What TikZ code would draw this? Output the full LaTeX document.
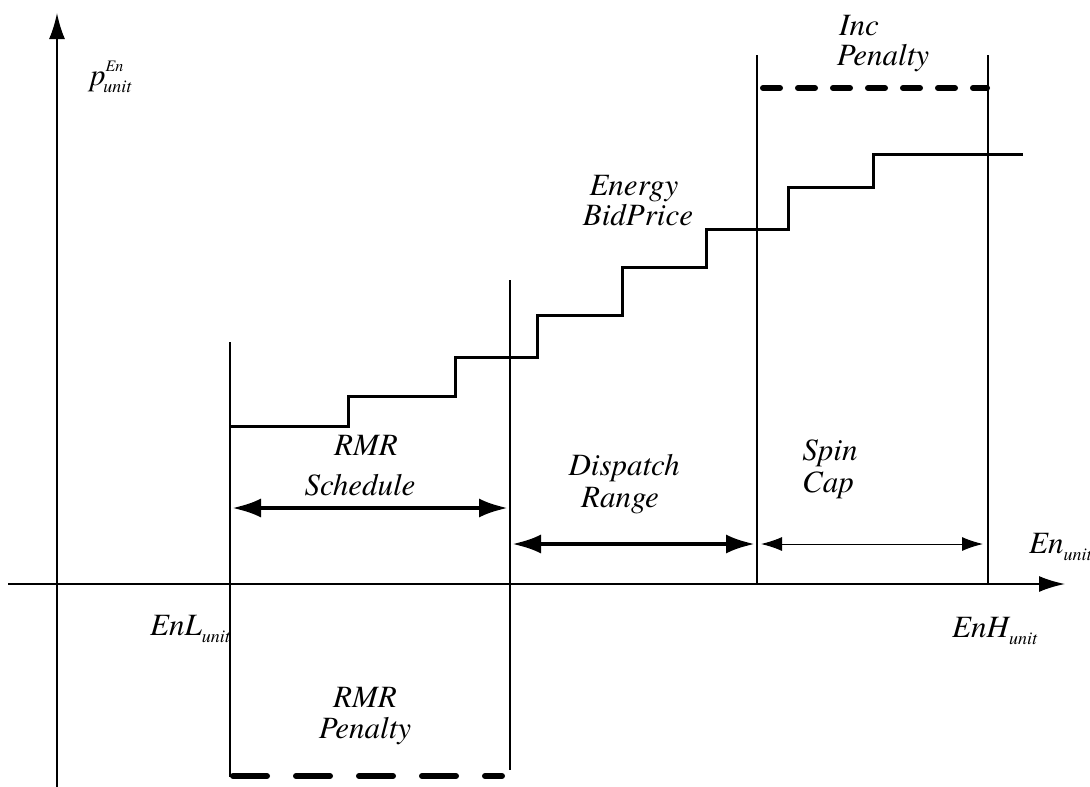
\documentclass[tikz,border=0pt]{standalone}
\usepackage{fontspec}
\setmainfont{texgyretermes}[Extension=.otf,UprightFont=*-regular,ItalicFont=*-italic,BoldFont=*-bold,BoldItalicFont=*-bolditalic]
\usetikzlibrary{arrows.meta}

\newcommand{\lowsub}[1]{\raisebox{-7pt}{\fontsize{18}{18}\selectfont #1}}
\newcommand{\highsup}[1]{\raisebox{14pt}{\fontsize{16}{16}\selectfont #1}}

\begin{document}
\begin{tikzpicture}[x=1pt,y=-1pt,
  axis line/.style={line width=2pt,-{Latex[length=26pt,width=16pt]}},
  bound line/.style={line width=1.2pt},
  bid line/.style={line width=3pt},
  range arrow/.style={line width=4pt,{Latex[length=29pt,width=19pt]}-{Latex[length=29pt,width=19pt]}},
  spin arrow/.style={line width=1pt,{Latex[length=21pt,width=14pt]}-{Latex[length=21pt,width=14pt]}},
  penalty line/.style={line width=6pt,line cap=round},
  text node/.style={inner sep=0pt,anchor=base,font=\itshape\fontsize{31}{31}\selectfont},
  axis node/.style={text node,anchor=base west}]

  \useasboundingbox (0,0) rectangle (1090,787);

  % axes
  \coordinate (x start) at (8,584);
  \coordinate (x end) at (1065,584);
  \coordinate (y start) at (57,787);
  \coordinate (y end) at (57,13);
  \draw[axis line] (x start) -- (x end);
  \draw[axis line] (y start) -- (y end);

  % range bounds
  \coordinate (enl top) at (230,342);
  \coordinate (enl bot) at (230,777);
  \coordinate (rmr top) at (510,280);
  \coordinate (rmr bot) at (510,770);
  \coordinate (disp top) at (757,55);
  \coordinate (disp bot) at (757,584);
  \coordinate (enh top) at (988,55);
  \coordinate (enh bot) at (988,584);
  \draw[bound line] (enl top) -- (enl bot);
  \draw[bound line] (rmr top) -- (rmr bot);
  \draw[bound line] (disp top) -- (disp bot);
  \draw[bound line] (enh top) -- (enh bot);

  % bid curve
  \draw[bid line] (230,426) -| (348,396) -| (455,357) -| (537,315) -| (622,267)
    -| (706,229) -| (788,187) -| (873,154) -- (1023,154);

  % ranges
  \coordinate (sched l) at (232,508);
  \coordinate (sched r) at (508,508);
  \coordinate (disp l) at (512,544);
  \coordinate (disp r) at (755,544);
  \coordinate (spin l) at (761,544);
  \coordinate (spin r) at (983,544);
  \draw[range arrow] (sched l) -- (sched r);
  \draw[range arrow] (disp l) -- (disp r);
  \draw[spin arrow] (spin l) -- (spin r);

  % penalties
  \coordinate (inc l) at (763,88);
  \coordinate (inc r) at (987,88);
  \coordinate (rmrpen l) at (233,776);
  \coordinate (rmrpen r) at (502,776);
  \draw[penalty line,dash pattern=on 17pt off 18pt] (inc l) -- (inc r);
  \draw[penalty line,dash pattern=on 34pt off 29pt] (rmrpen l) -- (rmrpen r);

  % labels
  \node[axis node] (price) at (90,85) {p\highsup{En}\hspace{-20pt}\lowsub{unit}};
  \node[axis node] (energy) at (1029,553) {En\lowsub{unit}};
  \node[axis node] (enl) at (150,635) {EnL\lowsub{unit}};
  \node[axis node] (enh) at (952,637) {EnH\lowsub{unit}};

  \node[text node] (inc 1) at (859,35) {Inc};
  \node[text node] (inc 2) at (883,65) {Penalty};
  \node[text node] (bid 1) at (634,195) {Energy};
  \node[text node] (bid 2) at (638,225) {BidPrice};
  \node[text node] (sched 1) at (366,455) {RMR};
  \node[text node] (sched 2) at (360,495) {Schedule};
  \node[text node] (disp 1) at (624,475) {Dispatch};
  \node[text node] (disp 2) at (620,507) {Range};
  \node[text node] (spin 1) at (830,460) {Spin};
  \node[text node] (spin 2) at (828,492) {Cap};
  \node[text node] (pen 1) at (365,707) {RMR};
  \node[text node] (pen 2) at (365,738) {Penalty};

\end{tikzpicture}
\end{document}
